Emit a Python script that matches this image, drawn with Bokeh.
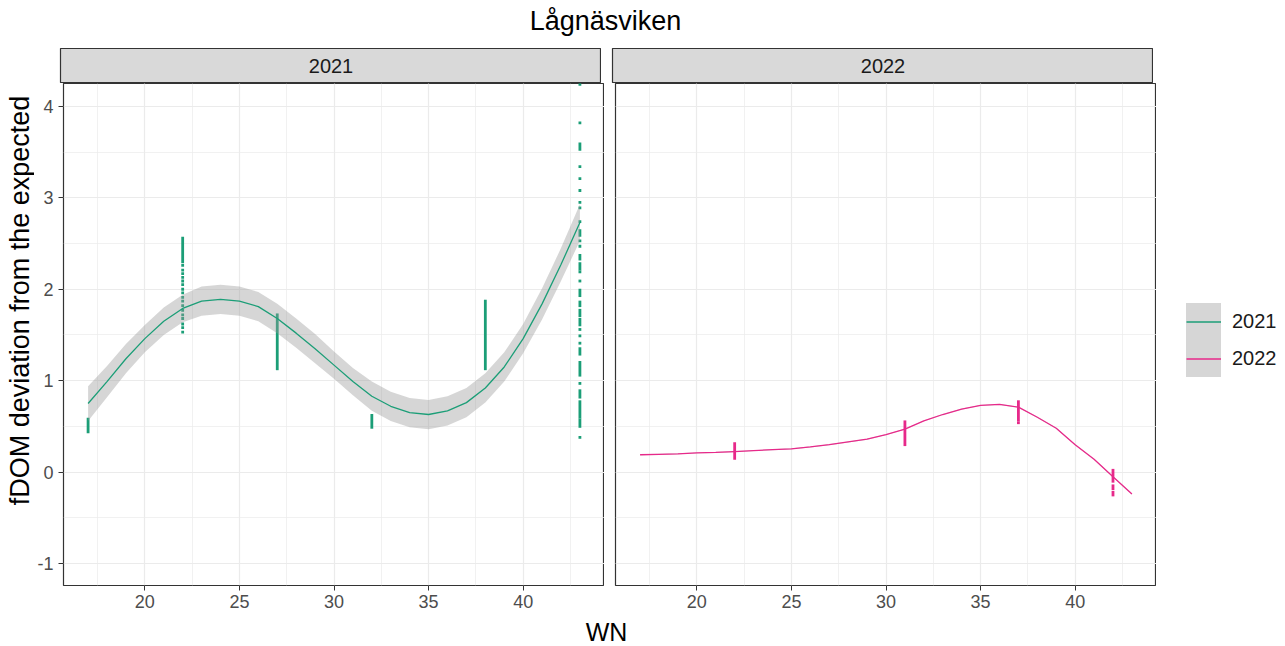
import math
from bokeh.plotting import figure
from bokeh.models import (Range1d, SingleIntervalTicker, Grid, Label, Legend, LegendItem,
                          PrintfTickFormatter)
from bokeh.layouts import column, row
from bokeh.embed import file_html
from bokeh.resources import INLINE

FONT = "Liberation Sans"
TEAL = "#1B9E77"
PINK = "#E7298A"

title_text = "Lågnäsviken"
x_title = "WN"
y_title = "fDOM deviation from the expected"
years = ["2021", "2022"]

# smooth curves (week number grid) and confidence band
wn_grid = [17, 18, 19, 20, 21, 22, 23, 24, 25, 26, 27, 28, 29, 30,
           31, 32, 33, 34, 35, 36, 37, 38, 39, 40, 41, 42, 43]
fit_2021 = [0.75, 0.99, 1.24, 1.46, 1.65, 1.79, 1.87, 1.89, 1.87, 1.81, 1.68, 1.52, 1.35, 1.17,
            0.99, 0.83, 0.72, 0.65, 0.63, 0.67, 0.76, 0.92, 1.15, 1.46, 1.84, 2.27, 2.73]
low_2021 = [0.56, 0.82, 1.08, 1.31, 1.50, 1.64, 1.71, 1.73, 1.71, 1.65, 1.52, 1.36, 1.19, 1.02,
            0.84, 0.67, 0.56, 0.49, 0.47, 0.51, 0.60, 0.76, 0.99, 1.30, 1.67, 2.09, 2.53]
high_2021 = [0.94, 1.16, 1.40, 1.61, 1.80, 1.94, 2.03, 2.05, 2.03, 1.97, 1.84, 1.68, 1.51, 1.32,
             1.14, 0.99, 0.88, 0.81, 0.79, 0.83, 0.92, 1.08, 1.31, 1.62, 2.01, 2.45, 2.93]
fit_2022 = [0.19, 0.195, 0.20, 0.21, 0.215, 0.225, 0.235, 0.245, 0.255, 0.275, 0.30, 0.33, 0.36, 0.41,
            0.47, 0.56, 0.63, 0.69, 0.73, 0.74, 0.71, 0.60, 0.48, 0.30, 0.14, -0.05, -0.24]
low_2022 = [0.185, 0.19, 0.195, 0.205, 0.21, 0.22, 0.23, 0.24, 0.25, 0.27, 0.295, 0.325, 0.355, 0.405,
            0.465, 0.555, 0.625, 0.685, 0.725, 0.735, 0.705, 0.595, 0.475, 0.295, 0.135, -0.055, -0.245]
high_2022 = [0.195, 0.20, 0.205, 0.215, 0.22, 0.23, 0.24, 0.25, 0.26, 0.28, 0.305, 0.335, 0.365, 0.415,
             0.475, 0.565, 0.635, 0.695, 0.735, 0.745, 0.715, 0.605, 0.485, 0.305, 0.145, -0.045, -0.235]

# observations: dense runs (low..high) and isolated points
run_wn_2021 = [17, 22, 27, 32, 38, 43, 43, 43, 43, 43, 43, 43, 43, 43, 43, 43, 43, 43]
run_lo_2021 = [0.44, 2.30, 1.13, 0.49, 1.13, 3.53, 2.59, 2.33, 2.22, 1.93, 1.82, 1.71, 1.61, 1.29, 1.06, 0.82, 0.60, 0.50]
run_hi_2021 = [0.58, 2.56, 1.72, 0.62, 1.87, 3.59, 2.64, 2.37, 2.28, 1.99, 1.86, 1.77, 1.67, 1.35, 1.20, 0.89, 0.77, 0.57]
dot_wn_2021 = [22] * 17 + [43] * 17
dot_y_2021 = [2.26, 2.21, 2.17, 2.13, 2.09, 2.05, 2.00, 1.96, 1.91, 1.87, 1.82, 1.77, 1.72, 1.68, 1.62, 1.58, 1.53,
              4.24, 3.82, 3.34, 3.21, 3.08, 2.95, 2.89, 2.74, 2.53, 2.47, 2.19, 2.09, 1.56, 1.49, 1.41, 0.97, 0.38]
run_wn_2022 = [22, 31, 37, 42, 42, 42]
run_lo_2022 = [0.15, 0.30, 0.57, -0.10, -0.18, -0.25]
run_hi_2022 = [0.31, 0.55, 0.77, 0.02, -0.15, -0.22]
dot_wn_2022 = [37]
dot_y_2022 = [0.54]

X_RANGE = (15.7, 44.3)
Y_RANGE = (-1.24, 4.25)
FRAME_W = 541
FRAME_H = 502
TICK_FS = "18px"
STRIP_FS = "20px"
LEGEND_FS = "20px"
XTITLE_FS = "25px"
YTITLE_FS = "27px"
TITLE_FS = "27px"


def hide_grids(f):
    for r in f.center:
        if isinstance(r, Grid):
            r.visible = False


def style_axis(ax):
    ax.axis_line_color = None
    ax.major_tick_line_color = "#333333"
    ax.major_tick_out = 5
    ax.major_tick_in = 0
    ax.minor_tick_line_color = None
    ax.major_label_text_color = "#4D4D4D"
    ax.major_label_text_font = FONT
    ax.major_label_text_font_size = TICK_FS
    ax.major_label_standoff = 4


def style_grid(g):
    g.grid_line_color = "#EBEBEB"
    g.grid_line_width = 1.2
    g.minor_grid_line_color = "#EBEBEB"
    g.minor_grid_line_width = 0.7


def panel(left, show_y):
    p = figure(frame_width=FRAME_W, frame_height=FRAME_H,
               x_range=Range1d(*X_RANGE), y_range=Range1d(*Y_RANGE),
               toolbar_location=None, output_backend="svg",
               min_border_left=left, min_border_right=0,
               min_border_top=0, min_border_bottom=30,
               y_axis_location="left" if show_y else None)
    p.xaxis.ticker = SingleIntervalTicker(interval=5, num_minor_ticks=2)
    style_axis(p.xaxis[0])
    if show_y:
        p.yaxis.ticker = SingleIntervalTicker(interval=1, num_minor_ticks=2)
        p.yaxis.formatter = PrintfTickFormatter(format="%d")
        style_axis(p.yaxis[0])
        p.yaxis.major_label_standoff = 5
    else:
        ygrids = [g for g in p.center if isinstance(g, Grid) and g.dimension == 1]
        for g in ygrids:
            g.visible = False
        yg = Grid(dimension=1, ticker=SingleIntervalTicker(interval=1, num_minor_ticks=2))
        p.add_layout(yg, "center")
    for g in p.center:
        if isinstance(g, Grid):
            style_grid(g)
    p.outline_line_color = "#333333"
    p.outline_line_width = 1.2
    p.background_fill_color = "white"
    return p


def draw(p, color, run_wn, run_lo, run_hi, dot_wn, dot_y, fit, low, high):
    p.segment(x0=run_wn, y0=run_lo, x1=run_wn, y1=run_hi, line_color=color,
              line_width=2.8, line_cap="square")
    p.scatter(x=dot_wn, y=dot_y, marker="square", size=2.8, fill_color=color, line_color=None)
    p.varea(x=wn_grid, y1=low, y2=high, fill_color="#999999", fill_alpha=0.4)
    p.line(x=wn_grid, y=fit, line_color=color, line_width=1.3)


def blank(w, h, xr=(0, 1), yr=(0, 1)):
    f = figure(frame_width=w, frame_height=h, x_range=Range1d(*xr), y_range=Range1d(*yr),
               toolbar_location=None, output_backend="svg",
               min_border_left=0, min_border_right=0, min_border_top=0, min_border_bottom=0,
               x_axis_location=None, y_axis_location=None)
    f.outline_line_color = None
    hide_grids(f)
    return f


def strip(label, left):
    s = figure(frame_width=FRAME_W, frame_height=35, x_range=Range1d(0, 1), y_range=Range1d(0, 1),
               toolbar_location=None, output_backend="svg",
               min_border_left=left, min_border_right=0, min_border_top=0, min_border_bottom=0,
               x_axis_location=None, y_axis_location=None)
    hide_grids(s)
    s.background_fill_color = "#D9D9D9"
    s.outline_line_color = "#333333"
    s.outline_line_width = 1.2
    s.add_layout(Label(x=0.5, y=0.5, text=label, text_align="center", text_baseline="middle",
                       text_font=FONT, text_font_size=STRIP_FS, text_color="#1A1A1A"))
    return s


YLAB_W = 34
LEFT_BORDER = 26

# panels
p1 = panel(LEFT_BORDER, True)
p2 = panel(11, False)
draw(p1, TEAL, run_wn_2021, run_lo_2021, run_hi_2021, dot_wn_2021, dot_y_2021,
     fit_2021, low_2021, high_2021)
draw(p2, PINK, run_wn_2022, run_lo_2022, run_hi_2022, dot_wn_2022, dot_y_2022,
     fit_2022, low_2022, high_2022)

# legend column: key renderers use the series data, which lies outside this
# small frame's range, so only their legend glyphs are visible
legfig = blank(132, FRAME_H)
key21 = legfig.line(x=wn_grid, y=fit_2021, line_color=TEAL, line_width=1.3)
key22 = legfig.line(x=wn_grid, y=fit_2022, line_color=PINK, line_width=1.3)
txt21 = legfig.line(x=wn_grid, y=fit_2021, line_alpha=0)
txt22 = legfig.line(x=wn_grid, y=fit_2022, line_alpha=0)

keys = Legend(items=[LegendItem(label=" ", renderers=[key21]),
                     LegendItem(label=" ", renderers=[key22])],
              location=(30, 208), margin=0, padding=0, spacing=0,
              glyph_width=35, glyph_height=37, label_standoff=0, label_width=0,
              label_height=0, label_text_font_size="1px",
              background_fill_color="#D6D6D6", background_fill_alpha=1.0,
              border_line_color=None)
labels = Legend(items=[LegendItem(label=years[0], renderers=[txt21]),
                       LegendItem(label=years[1], renderers=[txt22])],
                location=(30, 208), margin=0, padding=0, spacing=0,
                glyph_width=35, glyph_height=37, label_standoff=11,
                label_text_font=FONT, label_text_font_size=LEGEND_FS, label_text_color="#1A1A1A",
                background_fill_alpha=0, border_line_color=None)
legfig.add_layout(keys, "center")
legfig.add_layout(labels, "center")

# strips
s1 = strip(years[0], LEFT_BORDER)
s2 = strip(years[1], 11)

# title, axis titles
top = blank(1285, 48, (0, 1285), (48, 0))
top.add_layout(Label(x=605, y=20, text=title_text, text_align="center", text_baseline="middle",
                     text_font=FONT, text_font_size=TITLE_FS, text_color="#000000"))

bottom = blank(1285, 31, (0, 1285), (31, 0))
bottom.add_layout(Label(x=606, y=16, text=x_title, text_align="center", text_baseline="middle",
                        text_font=FONT, text_font_size=XTITLE_FS, text_color="#000000"))

ylab_h = 35 + FRAME_H + 30
ylab = blank(YLAB_W, ylab_h, (0, YLAB_W), (ylab_h, 0))
ylab.add_layout(Label(x=19, y=252, text=y_title, text_align="center", text_baseline="middle",
                      angle=math.pi / 2, text_font=FONT, text_font_size=YTITLE_FS,
                      text_color="#000000"))

layout = column(top,
                row(ylab, column(row(s1, s2), row(p1, p2, legfig))),
                bottom)

open("out.html", "w").write(file_html(layout, INLINE))
